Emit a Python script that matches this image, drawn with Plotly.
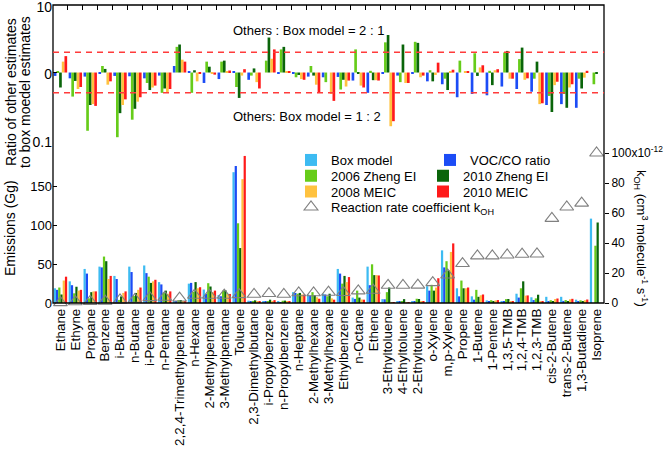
import plotly.graph_objects as go

categories = ["Ethane", "Ethyne", "Propane", "Benzene", "i-Butane", "n-Butane", "i-Pentane", "n-Pentane",
              "2,2,4-Trimethylpentane", "n-Hexane", "2-Methylpentane", "3-Methylpentane", "Toluene",
              "2,3-Dimethylbutane", "i-Propylbenzene", "n-Propylbenzene", "n-Heptane", "2-Methylhexane",
              "3-Methylhexane", "Ethylbenzene", "n-Octane", "Ethene", "3-Ethyltoluene", "4-Ethyltoluene",
              "2-Ethyltoluene", "o-Xylene", "m,p-Xylene", "Propene", "1-Butene", "1-Pentene", "1,3,5-TMB",
              "1,2,4-TMB", "1,2,3-TMB", "cis-2-Butene", "trans-2-Butene", "1,3-Butadiene", "Isoprene"]

# Emissions (Gg)
box_model = [19, 28, 44, 47, 35, 47, 48.5, 27, 1.5, 25, 17.4, 10.4, 169, 3, 1.7, 1.3, 14, 11, 12, 44, 7, 47,
             5, 1.7, 2, 21.7, 68, 19, 8.6, 3.4, 2.5, 12, 7.4, 8, 8, 4.3, 109]
voc_co = [17, 23, 38, 46, 31, 40, 38.6, 24, 2.1, 26, 11.7, 8.7, 177, 2.3, 1.7, 1.2, 13, 9.6, 11, 38, 5.3, 23,
          4.8, 1.5, 1.9, 16, 46, 8.6, 4.3, 1.6, 1.6, 7, 3.8, 2.6, 2.7, 1.3, None]
zheng2006 = [20, 12.5, 6, 60, 4, 9, 34, 13.5, 3.6, 14.5, 25.6, 16, 103, 2.7, 2.6, 2.9, 12, 14, 8.7, 25, 16, 50,
             14, 1.5, 5.5, 23.5, 54, 29, 17, 3.6, 5, 19, 6, 3.6, 3.8, 3.5, 74]
zheng2010 = [11, 21, 14, 54, 8.5, 13, 26, 16, 3.9, 27, 21.3, 16.5, 71, 3.4, 4.3, 3.1, 13, 10, 12, 35, 7, 36,
             20, 5, 5.2, 16, 42, 19, 8, 2.2, 5.2, 28, 10.7, 2.1, 2.4, 2.5, 104]
meic2008 = [29, 16, 15, 31, 13, 17, 28, 12, 2.3, 19, 14, 11.7, 160, 2.2, 2.7, 1.4, 11, 7.4, 6, 27, 4.5, 36,
            0.8, 1.2, 1.6, 20, 66, 19, 10, 3.4, 2, 9.5, 2.5, 5.2, 4.8, 3.6, None]
meic2010 = [34, 17, 15, 35, 15, 20, 30, 15, 2.2, 20.4, 16, 11.7, 190, 1.7, 3.7, 1.35, 11, 5.5, 4.3, 33.5, 4.3,
            35.6, 1, 1.2, 1.7, 32, 77, 20, 11, 3.8, 2, 9.8, 2.6, 5.8, 5.4, 4.5, None]

# Reaction rate coefficient kOH (x10^-12 cm3 molecule-1 s-1)
koh = [0.25, 0.85, 1.1, 1.2, 2.1, 2.4, 3.6, 3.8, 3.3, 5.2, 5.2, 5.2, 5.6, 5.8, 6.3, 5.8, 6.8, 6.8, 7.2, 7.0,
       8.1, 8.5, 11.8, 11.8, 11.9, 13.6, 18.7, 26.3, 31.4, 31.4, 32.0, 32.5, 32.7, 56.4, 64.0, 66.6, 100]

# Ratio of other estimates to box model estimates
ratio_voc_co = [0.89, 0.82, 0.87, 0.98, 0.89, 0.88, 0.82, 0.9, 1.25, 1.03, 0.7, 0.8, 1.05, 0.78, 1.0, 0.95,
                0.95, 0.87, 0.85, 0.86, 0.76, 0.5, 0.95, 0.9, 0.97, 0.74, 0.67, 0.43, 0.48, 0.46, 0.62, 0.57,
                0.52, 0.33, 0.34, 0.3, None]
ratio_zheng2006 = [1.03, 0.44, 0.137, 1.25, 0.11, 0.2, 0.7, 0.5, 2.4, 0.5, 1.45, 1.45, 0.61, 0.9, 1.5, 2.2,
                   0.85, 1.25, 0.72, 0.56, 2.2, 1.06, 2.8, 0.72, 2.85, 1.08, 0.81, 1.5, 1.93, 1.06, 1.98,
                   1.58, 0.81, 0.45, 0.48, 0.81, 0.67]
ratio_zheng2010 = [0.6, 0.75, 0.33, 1.13, 0.25, 0.29, 0.55, 0.58, 2.6, 1.08, 1.22, 1.5, 0.42, 1.15, 3.3, 2.4,
                   0.92, 0.9, 1.0, 0.78, 0.95, 0.77, 3.6, 2.6, 2.75, 0.74, 0.55, 1.0, 0.89, 0.65, 2.09, 2.34,
                   1.45, 0.26, 0.3, 0.58, 0.95]
ratio_meic2008 = [1.45, 0.57, 0.34, 0.66, 0.33, 0.37, 0.6, 0.5, 1.55, 0.74, 0.97, 1.05, 0.9, 0.72, 1.6, 1.05,
                  0.8, 0.66, 0.48, 0.62, 0.64, 0.77, 0.16, 0.7, 0.85, 0.92, 1.03, 1.05, 1.19, 1.08, 0.81,
                  0.78, 0.34, 0.65, 0.6, 0.84, None]
ratio_meic2010 = [1.75, 0.61, 0.32, 0.74, 0.4, 0.43, 0.64, 0.57, 1.45, 0.95, 0.93, 1.07, 1.12, 0.58, 2.2,
                  1.05, 0.78, 0.5, 0.38, 0.76, 0.6, 0.76, 0.19, 0.7, 0.9, 1.4, 1.1, 1.05, 1.28, 1.12, 0.81,
                  0.82, 0.35, 0.73, 0.67, 1.06, None]

FONT = "Liberation Sans, Arial, sans-serif"
C_BOX = "#3DBBF2"
C_VOC = "#1C4CF6"
C_Z06 = "#66CC1A"
C_Z10 = "#0A650A"
C_M08 = "#FFC23F"
C_M10 = "#FF1A1A"
C_TRI = "#808080"

fig = go.Figure()

# ---- bottom panel: emissions
bottom_series = [
    ("Box model", box_model, C_BOX, "legend", (331 - 53) / 551, 160),
    ("VOC/CO ratio", voc_co, C_VOC, "legend2", (470 - 53) / 551, 160),
    ("2006 Zheng EI", zheng2006, C_Z06, "legend3", (331 - 53) / 551, 175.7),
    ("2010 Zheng EI", zheng2010, C_Z10, "legend4", (463 - 53) / 551, 175.7),
    ("2008 MEIC", meic2008, C_M08, "legend5", (331 - 53) / 551, 191.5),
    ("2010 MEIC", meic2010, C_M10, "legend6", (463 - 53) / 551, 191.5),
]
legend_layout = {}
for name, vals, col, lg, lx, ly in bottom_series:
    fig.add_trace(go.Bar(x=categories, y=vals, name=name, marker=dict(color=col, line=dict(width=0)),
                         xaxis="x", yaxis="y", legend=lg))
    legend_layout[lg] = dict(x=lx - 40 / 551, y=(303 - ly) / 298, xanchor="left", yanchor="middle",
                             bgcolor="rgba(0,0,0,0)", font=dict(family=FONT, size=13, color="black"))

fig.add_trace(go.Scatter(x=categories, y=koh, mode="markers", name="Reaction rate coefficient k<sub>OH</sub>",
                         marker=dict(symbol="triangle-up-open", size=12, color=C_TRI, line=dict(width=1.1)),
                         xaxis="x", yaxis="y3", cliponaxis=False, legend="legend7"))
legend_layout["legend7"] = dict(x=(331 - 53 - 40) / 551, y=(303 - 207) / 298, xanchor="left",
                                yanchor="middle", bgcolor="rgba(0,0,0,0)",
                                font=dict(family=FONT, size=13, color="black"))

# ---- top panel: ratios (bars from 1 on a log axis)
top_series = [
    (ratio_voc_co, C_VOC), (ratio_zheng2006, C_Z06), (ratio_zheng2010, C_Z10),
    (ratio_meic2008, C_M08), (ratio_meic2010, C_M10),
]
for vals, col in top_series:
    fig.add_trace(go.Bar(x=categories, y=[None if v is None else v - 1 for v in vals], base=1,
                         marker=dict(color=col, line=dict(width=0)), showlegend=False,
                         xaxis="x2", yaxis="y2"))

split = 163 / 298

fig.update_layout(
    width=666, height=452,
    margin=dict(l=53, r=62, t=5, b=149, autoexpand=False),
    paper_bgcolor="white", plot_bgcolor="white",
    font=dict(family=FONT, size=12, color="black"),
    barmode="group", bargap=0.1, bargroupgap=0,
    xaxis=dict(domain=[0, 1], anchor="y", type="category", tickangle=-90, ticks="",
               tickmode="array", tickvals=categories, ticktext=categories, automargin=False,
               tickfont=dict(size=13.4), ticklabelstandoff=2,
               showgrid=False, showline=False, zeroline=False, range=[-0.5, 36.5]),
    xaxis2=dict(domain=[0, 1], anchor="y2", matches="x", side="top", type="category",
                tickmode="array", tickvals=categories, automargin=False,
                ticks="inside", tickson="boundaries", ticklen=5, tickcolor="black",
                showticklabels=False, showgrid=False, showline=False, zeroline=False),
    yaxis=dict(domain=[0, split], anchor="x", range=[0, 163 / 0.774], tickvals=[0, 50, 100, 150],
               ticks="inside", ticklen=4, tickcolor="black", tickfont=dict(size=13), automargin=False,
               showgrid=False, zeroline=False, showline=False),
    yaxis2=dict(domain=[split, 1], anchor="x2", type="log", range=[-1, 1.0005], automargin=False,
                tickvals=[0.1, 1, 10], ticktext=["0.1", "0", "10"], ticks="inside", ticklen=4,
                ticklabeloverflow="allow", ticklabelshift=2,
                tickcolor="black", tickfont=dict(size=14), showgrid=False, zeroline=False, showline=False),
    yaxis3=dict(overlaying="y", side="right", anchor="x", range=[0, 163 / 1.5], automargin=False,
                tickvals=[0, 20, 40, 60, 80, 100],
                ticktext=["0", "20", "40", "60", "80", "100x10<sup>-12</sup>"],
                ticks="outside", ticklen=4, tickcolor="black", tickfont=dict(size=12),
                ticklabeloverflow="allow",
                showgrid=False, zeroline=False, showline=False),
    **legend_layout,
)

# frame
fig.add_shape(type="rect", xref="paper", yref="paper", x0=0, x1=1, y0=0, y1=1,
              line=dict(color="black", width=1.3), fillcolor="rgba(0,0,0,0)", layer="above")
# reference ratio lines 2:1 and 1:2 (log axis domain fractions)
for frac in [(0.30103 + 1) / 2, (-0.30103 + 1) / 2]:
    fig.add_shape(type="line", xref="paper", yref="y2 domain", x0=0, x1=1, y0=frac, y1=frac,
                  line=dict(color="#FF3B3B", width=1.6, dash="6px,5px"), layer="above")

fig.add_annotation(text="Others : Box model = 2 : 1", xref="paper", yref="y2 domain",
                   x=(231 - 53) / 551, y=(140 - 30.5) / 135, xanchor="left", yanchor="middle",
                   showarrow=False, font=dict(size=13))
fig.add_annotation(text="Others: Box model = 1 : 2", xref="paper", yref="y2 domain",
                   x=(231 - 53) / 551, y=(140 - 116) / 135, xanchor="left", yanchor="middle",
                   showarrow=False, font=dict(size=13))
fig.add_annotation(text="Ratio of other estimates", xref="paper", yref="paper",
                   x=(11 - 53) / 551, y=(303 - 92) / 298, textangle=-90, showarrow=False,
                   xanchor="center", yanchor="middle", font=dict(size=14))
fig.add_annotation(text="to box moedel estimates", xref="paper", yref="paper",
                   x=(25 - 53) / 551, y=(303 - 92) / 298, textangle=-90, showarrow=False,
                   xanchor="center", yanchor="middle", font=dict(size=14))
fig.add_annotation(text="Emissions (Gg)", xref="paper", yref="paper",
                   x=(10 - 53) / 551, y=(303 - 228) / 298, textangle=-90, showarrow=False,
                   xanchor="center", yanchor="middle", font=dict(size=14))
fig.add_annotation(text="k<sub>OH</sub> (cm<sup>3</sup> molecule<sup>-1</sup> s<sup>-1</sup>)",
                   xref="paper", yref="paper", x=(641 - 53) / 551, y=(303 - 238) / 298,
                   textangle=90, showarrow=False, xanchor="center", yanchor="middle",
                   font=dict(size=13))

fig.write_html("out.html", config={"displayModeBar": False},
               post_script="document.body.style.margin='0px';")
